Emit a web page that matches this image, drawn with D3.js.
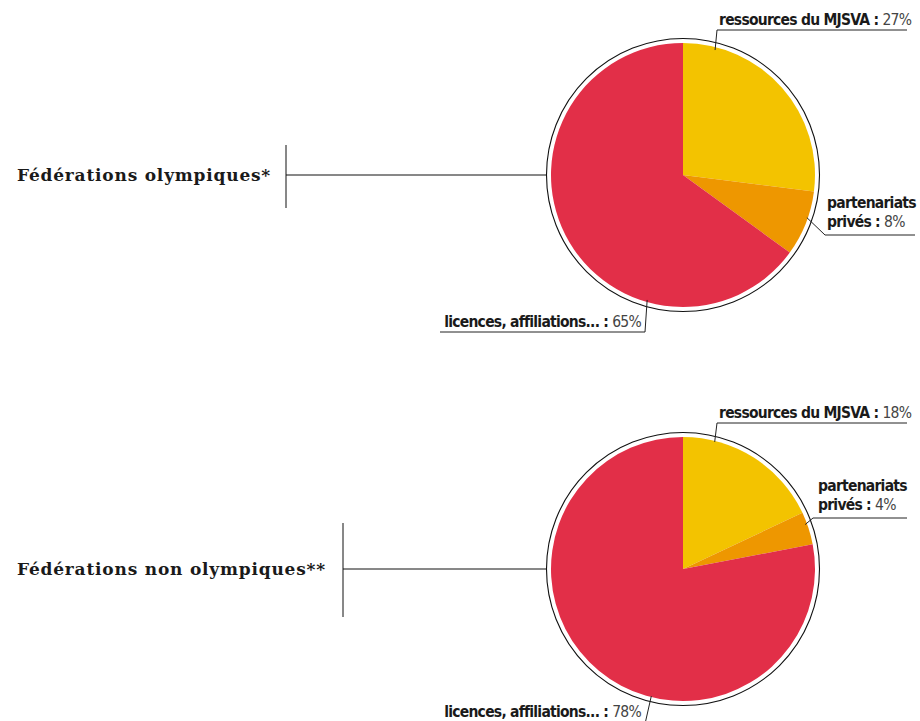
<!DOCTYPE html>
<html><head><meta charset="utf-8">
<script src="https://cdn.jsdelivr.net/npm/d3@7"></script>
<style>
body{margin:0;background:#fff;}
svg{display:block;}
.t{font-family:"DejaVu Serif",serif;font-weight:bold;font-size:17px;letter-spacing:0.8px;fill:#1a1a1a;}
.lab{font-family:"DejaVu Sans Condensed","DejaVu Sans",sans-serif;font-size:15.5px;letter-spacing:-0.75px;fill:#1a1a1a;}
.lab .b{font-weight:bold;}
.lab .v{font-weight:normal;fill:#444;}
</style></head><body>
<svg id="c" width="920" height="721"></svg>
<script>
// ---- data ----
const groups = ["Fédérations olympiques*", "Fédérations non olympiques**"];
const categories = ["ressources du MJSVA", "partenariats privés", "licences, affiliations..."];
const olympiques = [27, 8, 65];
const nonOlympiques = [18, 4, 78];
const colors = ["#f3c300", "#ee9700", "#e22f48"];

// ---- layout ----
const svg = d3.select("#c");
const R = 132, RING = 136.5;
const layouts = [
  {cx:683, cy:175, title:{x:17, y:181, vx:286, vy0:145, vy1:208},
   labels:[
     {lines:[["ressources du MJSVA : ", 0]], x:719, y:25, anchor:"start", ul:[717,907,30], ang:14.4, r:129},
     {lines:[["partenariats",null],["privés : ",1]], x:827, y:208, anchor:"start", ul:[825,915,235], ang:109, r:131},
     {lines:[["licences, affiliations... : ",2]], x:641, y:327, anchor:"end", ul:[440,645,332], ang:196, r:130}
   ]},
  {cx:683, cy:569, title:{x:17, y:575, vx:343, vy0:523, vy1:617},
   labels:[
     {lines:[["ressources du MJSVA : ", 0]], x:719, y:418, anchor:"start", ul:[717,907,423], ang:14, r:131},
     {lines:[["partenariats",null],["privés : ",1]], x:818, y:491, anchor:"start", ul:[813,907,518], ang:70, r:130},
     {lines:[["licences, affiliations... : ",2]], x:641, y:717, anchor:"end", ul:[440,645,724], ang:194, r:131}
   ]}
];
const seriesList = [olympiques, nonOlympiques];

const pie = d3.pie().sort(null).value(d => d);
const arc = d3.arc().innerRadius(0).outerRadius(R);

seriesList.forEach((vals, i) => {
  const L = layouts[i];
  const g = svg.append("g").attr("transform", `translate(${L.cx},${L.cy})`);
  g.selectAll("path.s").data(pie(vals)).join("path")
    .attr("class","s").attr("d", arc).attr("fill", (d,j) => colors[j]);
  g.append("circle").attr("r", RING).attr("fill","none").attr("stroke","#111").attr("stroke-width",1.1);

  // title + connector
  svg.append("text").attr("class","t").attr("x", L.title.x).attr("y", L.title.y).text(groups[i]);
  svg.append("line").attr("x1", L.title.vx).attr("x2", L.title.vx).attr("y1", L.title.vy0).attr("y2", L.title.vy1)
    .attr("stroke","#111").attr("stroke-width",1);
  svg.append("line").attr("x1", L.title.vx).attr("x2", L.cx - RING).attr("y1", L.cy).attr("y2", L.cy)
    .attr("stroke","#111").attr("stroke-width",1);

  // labels
  L.labels.forEach(lb => {
    const t = svg.append("text").attr("class","lab").attr("text-anchor", lb.anchor);
    lb.lines.forEach((ln, k) => {
      const row = t.append("tspan").attr("x", lb.x).attr("y", lb.y + k*18.5);
      row.append("tspan").attr("class","b").text(ln[0]);
      if (ln[1] !== null) row.append("tspan").attr("class","v").text(vals[ln[1]] + "%");
    });
    const a = lb.ang * Math.PI/180;
    const ex = L.cx + lb.r*Math.sin(a), ey = L.cy - lb.r*Math.cos(a);
    const sx = lb.anchor === "end" ? lb.ul[1] : lb.ul[0];
    svg.append("path")
      .attr("d", `M${ex},${ey}L${sx},${lb.ul[2]}` + (lb.anchor==="end" ? `L${lb.ul[0]},${lb.ul[2]}` : `L${lb.ul[1]},${lb.ul[2]}`))
      .attr("fill","none").attr("stroke","#222").attr("stroke-width",1);
  });
});
</script>
</body></html>
